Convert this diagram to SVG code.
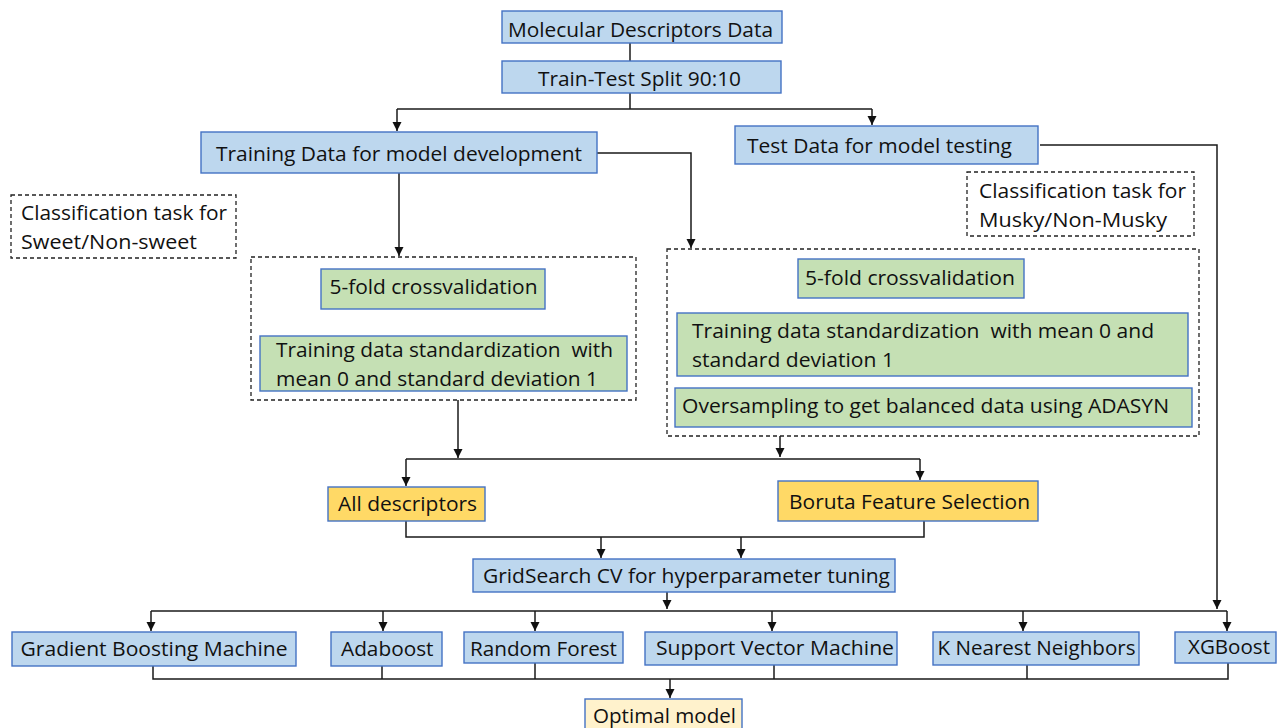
<svg xmlns="http://www.w3.org/2000/svg" width="1277" height="728" viewBox="0 0 1277 728">
<style>
text{font-family:"Open Sans","Noto Sans","Liberation Sans",sans-serif;font-size:19.5px;fill:#111;white-space:pre;}
.b{fill:#BDD7EE;stroke:#4472C4;stroke-width:1.4;}
.g{fill:#C5E0B4;stroke:#4472C4;stroke-width:1.4;}
.y{fill:#FFD966;stroke:#4472C4;stroke-width:1.4;}
.o{fill:#FFF2CC;stroke:#4472C4;stroke-width:1.4;}
.d{fill:none;stroke:#222;stroke-width:1.3;stroke-dasharray:4 3;}
.c path{fill:none;stroke:#1a1a1a;stroke-width:1.5;}
</style>
<defs>
<marker id="ah" markerUnits="userSpaceOnUse" markerWidth="10" markerHeight="10" refX="9" refY="4.5" orient="auto">
<path d="M0,0 L9,4.5 L0,9 z" fill="#111"/>
</marker>
</defs>
<rect width="1277" height="728" fill="#fff"/>

<g class="c" id="connectors">
<path d="M630,43 V61"/>
<path d="M630,93 V109"/>
<path d="M397,109 H872"/>
<path d="M397,109 V131" marker-end="url(#ah)"/>
<path d="M872,109 V125" marker-end="url(#ah)"/>
<path d="M399,173 V256" marker-end="url(#ah)"/>
<path d="M597,153 H691 V248" marker-end="url(#ah)"/>
<path d="M1040,145 H1217 V609" marker-end="url(#ah)"/>
<path d="M458,400 V458" marker-end="url(#ah)"/>
<path d="M780,436 V457" marker-end="url(#ah)"/>
<path d="M406,459 H920"/>
<path d="M406,459 V486" marker-end="url(#ah)"/>
<path d="M920,459 V480" marker-end="url(#ah)"/>
<path d="M406,521 V537 H924 V521"/>
<path d="M601,537 V558" marker-end="url(#ah)"/>
<path d="M741,537 V558" marker-end="url(#ah)"/>
<path d="M667,592 V609" marker-end="url(#ah)"/>
<path d="M151,611 H1227"/>
<path d="M151,611 V631" marker-end="url(#ah)"/>
<path d="M383,611 V631" marker-end="url(#ah)"/>
<path d="M535,611 V631" marker-end="url(#ah)"/>
<path d="M772,611 V631" marker-end="url(#ah)"/>
<path d="M1023,611 V631" marker-end="url(#ah)"/>
<path d="M1227,611 V631" marker-end="url(#ah)"/>
<path d="M153,666 V679 H1228 V663"/>
<path d="M382,666 V679"/>
<path d="M535,663 V679"/>
<path d="M774,665 V679"/>
<path d="M1027,665 V679"/>
<path d="M670,679 V698" marker-end="url(#ah)"/>
</g>

<g id="n-moldata"><rect class="b" x="502" y="11" width="280" height="32"/><text x="508" y="36.5" textLength="265" lengthAdjust="spacingAndGlyphs">Molecular Descriptors Data</text></g>
<g id="n-split"><rect class="b" x="502" y="61" width="279" height="32"/><text x="538" y="86" textLength="203" lengthAdjust="spacingAndGlyphs">Train-Test Split 90:10</text></g>
<g id="n-train"><rect class="b" x="201" y="132" width="396" height="41"/><text x="216" y="161" textLength="366" lengthAdjust="spacingAndGlyphs">Training Data for model development</text></g>
<g id="n-test"><rect class="b" x="735" y="126" width="303" height="38"/><text x="747" y="153" textLength="265" lengthAdjust="spacingAndGlyphs">Test Data for model testing</text></g>

<g id="n-sweet"><rect class="d" x="11" y="195" width="225" height="63"/><text x="21" y="220" textLength="206" lengthAdjust="spacingAndGlyphs">Classification task for</text><text x="21" y="249" textLength="176" lengthAdjust="spacingAndGlyphs">Sweet/Non-sweet</text></g>
<g id="n-musky"><rect class="d" x="967" y="172" width="227" height="64"/><text x="979" y="198" textLength="207" lengthAdjust="spacingAndGlyphs">Classification task for</text><text x="979" y="227" textLength="188" lengthAdjust="spacingAndGlyphs">Musky/Non-Musky</text></g>

<g id="n-leftgroup"><rect class="d" x="251" y="257" width="385" height="143"/></g>
<g id="n-cv-left"><rect class="g" x="321" y="269" width="224" height="40"/><text x="329.5" y="294" textLength="208" lengthAdjust="spacingAndGlyphs">5-fold crossvalidation</text></g>
<g id="n-std-left"><rect class="g" x="260" y="336" width="367" height="55"/><text x="276" y="357" textLength="337" lengthAdjust="spacingAndGlyphs" xml:space="preserve">Training data standardization  with</text><text x="276" y="386" textLength="322" lengthAdjust="spacingAndGlyphs">mean 0 and standard deviation 1</text></g>

<g id="n-rightgroup"><rect class="d" x="667" y="249" width="532" height="187"/></g>
<g id="n-cv-right"><rect class="g" x="798" y="259" width="226" height="39"/><text x="805" y="285" textLength="210" lengthAdjust="spacingAndGlyphs">5-fold crossvalidation</text></g>
<g id="n-std-right"><rect class="g" x="677" y="313" width="511" height="63"/><text x="692" y="338" textLength="462" lengthAdjust="spacingAndGlyphs" xml:space="preserve">Training data standardization  with mean 0 and</text><text x="692" y="367" textLength="202" lengthAdjust="spacingAndGlyphs">standard deviation 1</text></g>
<g id="n-adasyn"><rect class="g" x="675" y="388" width="517" height="39"/><text x="682" y="413" textLength="487" lengthAdjust="spacingAndGlyphs">Oversampling to get balanced data using ADASYN</text></g>

<g id="n-alldesc"><rect class="y" x="328" y="487" width="157" height="34"/><text x="338" y="510.5" textLength="139" lengthAdjust="spacingAndGlyphs">All descriptors</text></g>
<g id="n-boruta"><rect class="y" x="778" y="481" width="260" height="40"/><text x="789" y="509" textLength="241" lengthAdjust="spacingAndGlyphs">Boruta Feature Selection</text></g>
<g id="n-grid"><rect class="b" x="473" y="559" width="422" height="33"/><text x="483" y="583" textLength="407" lengthAdjust="spacingAndGlyphs">GridSearch CV for hyperparameter tuning</text></g>

<g id="n-gbm"><rect class="b" x="12" y="632" width="284" height="34"/><text x="20.5" y="656" textLength="267" lengthAdjust="spacingAndGlyphs">Gradient Boosting Machine</text></g>
<g id="n-ada"><rect class="b" x="331" y="632" width="111" height="34"/><text x="341" y="656" textLength="92.5" lengthAdjust="spacingAndGlyphs">Adaboost</text></g>
<g id="n-rf"><rect class="b" x="464" y="632" width="159" height="31"/><text x="470" y="655.5" textLength="147" lengthAdjust="spacingAndGlyphs">Random Forest</text></g>
<g id="n-svm"><rect class="b" x="645" y="632" width="252" height="33"/><text x="656" y="655" textLength="238" lengthAdjust="spacingAndGlyphs">Support Vector Machine</text></g>
<g id="n-knn"><rect class="b" x="933" y="632" width="206" height="33"/><text x="937.5" y="655" textLength="198" lengthAdjust="spacingAndGlyphs">K Nearest Neighbors</text></g>
<g id="n-xgb"><rect class="b" x="1175" y="632" width="101" height="31"/><text x="1188" y="654" textLength="82" lengthAdjust="spacingAndGlyphs">XGBoost</text></g>
<g id="n-opt"><rect class="o" x="585" y="699" width="157" height="34"/><text x="593" y="723" textLength="143" lengthAdjust="spacingAndGlyphs">Optimal model</text></g>
</svg>
